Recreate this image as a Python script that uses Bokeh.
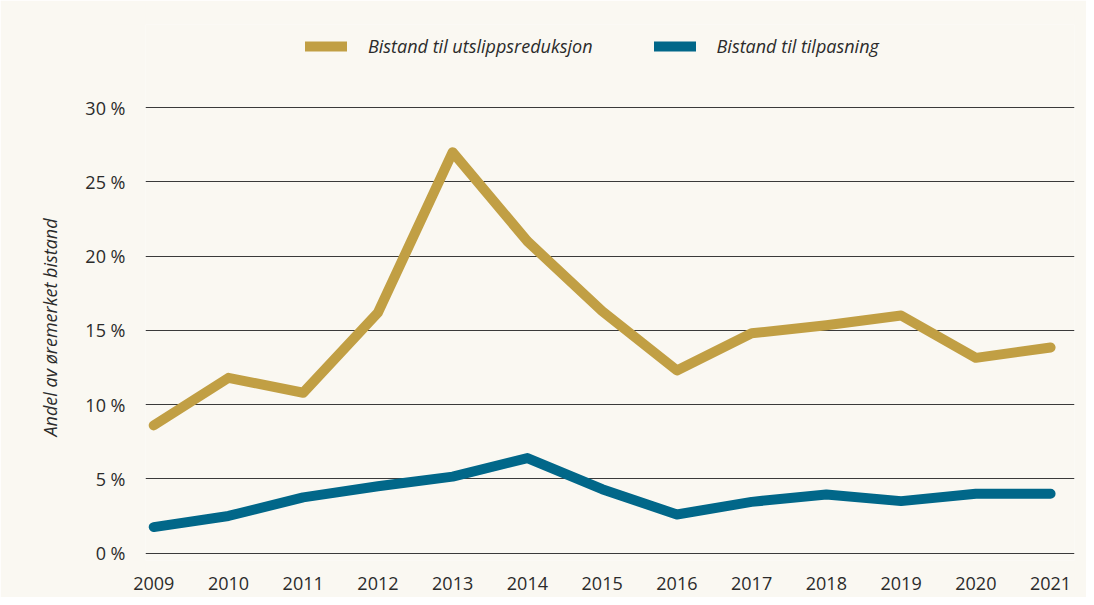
from bokeh.plotting import figure
from bokeh.models import Range1d, FixedTicker, Legend, LegendItem, Title
from bokeh.embed import file_html
from bokeh.resources import INLINE

years = [2009, 2010, 2011, 2012, 2013, 2014, 2015, 2016, 2017, 2018, 2019, 2020, 2021]
utslipp = [8.6, 11.8, 10.8, 16.2, 27.0, 21.0, 16.3, 12.3, 14.8, 15.35, 16.0, 13.15, 13.85]
tilpasning = [1.75, 2.5, 3.75, 4.5, 5.15, 6.4, 4.3, 2.6, 3.45, 3.95, 3.5, 4.0, 4.0]
y_ticks = [0, 5, 10, 15, 20, 25, 30]
y_labels = ["0 %", "5 %", "10 %", "15 %", "20 %", "25 %", "30 %"]
series_names = ["Bistand til utslippsreduksjon", "Bistand til tilpasning"]
y_title = "Andel av øremerket bistand"

GOLD = "#C19F44"
BLUE = "#016789"
BG = "#FAF8F2"
FONT = "Open Sans"

p = figure(width=1086, height=597, output_backend="svg", toolbar_location=None,
           x_range=Range1d(2008.89, 2021.32), y_range=Range1d(-0.5, 35.6),
           min_border_left=145, min_border_right=12, min_border_top=24,
           min_border_bottom=37)
p.background_fill_color = BG
p.border_fill_color = BG
p.outline_line_color = None

r1 = p.line(years, utslipp, line_color=GOLD, line_width=10, line_cap="round", line_join="round")
r2 = p.line(years, tilpasning, line_color=BLUE, line_width=10, line_cap="round", line_join="round")

p.xgrid.grid_line_color = None
p.ygrid.ticker = FixedTicker(ticks=y_ticks)
p.ygrid.grid_line_color = "#3a3a3a"
p.ygrid.grid_line_width = 1

p.yaxis.ticker = FixedTicker(ticks=y_ticks)
p.yaxis.major_label_overrides = {t: l for t, l in zip(y_ticks, y_labels)}
p.xaxis.ticker = FixedTicker(ticks=years)
p.xaxis.major_label_overrides = {y: str(y) for y in years}

for ax in (p.xaxis[0], p.yaxis[0]):
    ax.axis_line_color = None
    ax.major_tick_line_color = None
    ax.minor_tick_line_color = None
    ax.major_label_text_font = FONT
    ax.major_label_text_font_size = "18px"
    ax.major_label_text_color = "#2b2b2b"

p.yaxis.major_label_standoff = 14
p.xaxis.major_label_standoff = 10

ytitle = Title(text=y_title, align="left", offset=124, standoff=42,
               text_font=FONT, text_font_style="italic", text_font_size="18px",
               text_color="#2b2b2b")
p.add_layout(ytitle, "left")

legend = Legend(items=[LegendItem(label=series_names[0], renderers=[r1]),
                       LegendItem(label=series_names[1], renderers=[r2])],
                orientation="horizontal", location=(160, 502))
legend.background_fill_alpha = 0
legend.border_line_color = None
legend.label_text_font = FONT
legend.label_text_font_style = "italic"
legend.label_text_font_size = "18px"
legend.label_text_color = "#2b2b2b"
legend.glyph_width = 42
legend.glyph_height = 20
legend.label_standoff = 21
legend.spacing = 61
legend.margin = 0
legend.padding = 0
p.add_layout(legend)

open("out.html", "w").write(file_html(p, INLINE))
